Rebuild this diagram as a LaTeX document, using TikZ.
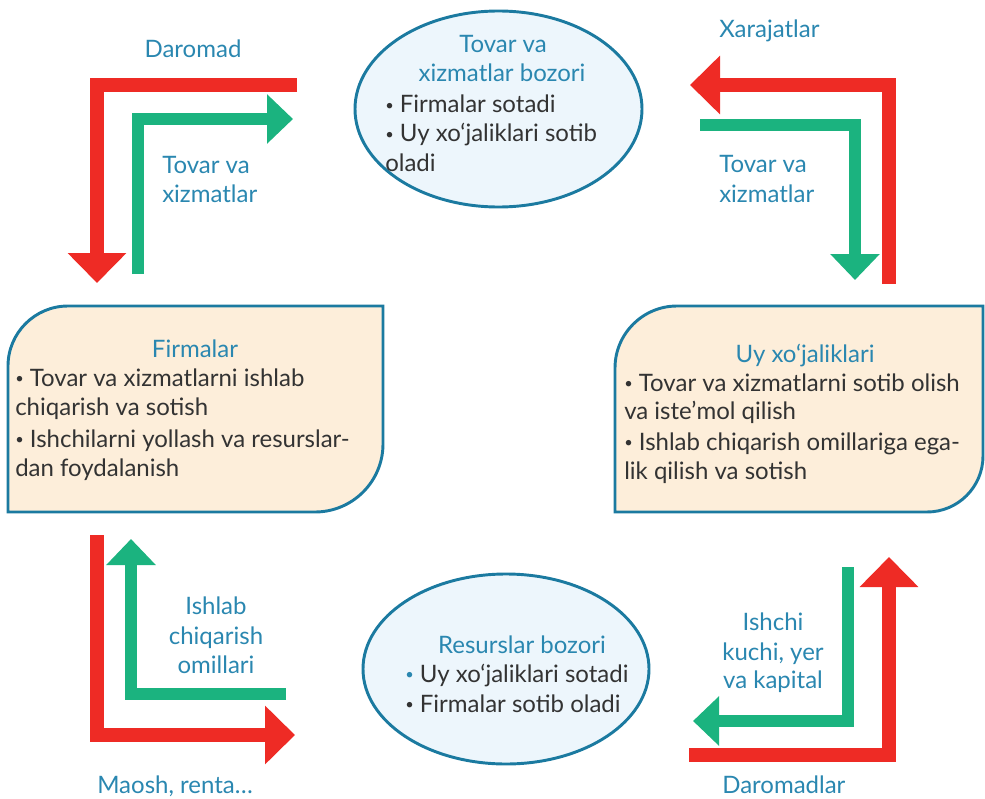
\documentclass[tikz,border=0pt]{standalone}
\usepackage{fontspec}
\setmainfont{Lato}
\usetikzlibrary{arrows.meta}
\definecolor{redc}{HTML}{EE2B25}
\definecolor{greenc}{HTML}{1BB37F}
\definecolor{bluet}{HTML}{2A87B0}
\definecolor{borderc}{HTML}{1B7AA0}
\definecolor{beige}{HTML}{FDEEDA}
\definecolor{lightblue}{HTML}{EDF6FC}
\definecolor{textc}{HTML}{333333}
\newcommand{\mybul}{\raisebox{2pt}{\fontsize{11}{11}\selectfont•}}
\begin{document}
\begin{tikzpicture}[x=0.75pt,y=-0.75pt,
  redflow/.style={draw=redc,line width=10.5pt,line join=miter,-{Triangle[width=42.75pt,length=22.5pt]}},
  greenflow/.style={draw=greenc,line width=8.5pt,line join=miter,-{Triangle[width=36pt,length=19.5pt]}},
  boxshape/.style={draw=borderc,line width=2.2pt,fill=beige},
  ellshape/.style={draw=borderc,line width=2.2pt,fill=lightblue},
  txt/.style={inner sep=0pt,font=\fontsize{18}{21.75}\selectfont},
  lbl/.style={txt,text=bluet},
  body/.style={txt,text=textc,anchor=base west}]
\path[use as bounding box] (0,0) rectangle (985,799);

% boxes
\draw[boxshape] (8,512) -- (8,366) .. controls (8,332.9) and (34.9,306) .. (68,306) -- (383,306) -- (383,444) .. controls (383,481.5) and (352.5,512) .. (315,512) -- cycle;
\draw[boxshape] (615,512) -- (615,368) .. controls (615,333.8) and (642.8,306) .. (677,306) -- (983,306) -- (983,456) .. controls (983,486.9) and (957.9,512) .. (927,512) -- cycle;
% ellipses
\draw[ellshape] (498.5,109) ellipse [x radius=143.5, y radius=98];
\draw[ellshape] (506,669) ellipse [x radius=143, y radius=95];

% flows
\coordinate (r1s) at (297,85);  \coordinate (r1e) at (97,283);
\coordinate (g1s) at (138,274); \coordinate (g1e) at (293,119);
\coordinate (r2s) at (889,284); \coordinate (r2e) at (690,85);
\coordinate (g2s) at (700,125); \coordinate (g2e) at (855,280);
\coordinate (r3s) at (97,535);  \coordinate (r3e) at (295,735);
\coordinate (g3s) at (286,694); \coordinate (g3e) at (131,539);
\coordinate (r4s) at (689,755); \coordinate (r4e) at (889,557);
\coordinate (g4s) at (848,567); \coordinate (g4e) at (693,721);
\draw[redflow] (r1s) -| (r1e);
\draw[greenflow] (g1s) |- (g1e);
\draw[redflow] (r2s) |- (r2e);
\draw[greenflow] (g2s) -| (g2e);
\draw[redflow] (r3s) |- (r3e);
\draw[greenflow] (g3s) -| (g3e);
\draw[redflow] (r4s) -| (r4e);
\draw[greenflow] (g4s) |- (g4e);

% flow labels
\node[lbl,anchor=base] (a1) at (193,58) {Daromad};
\node[lbl,anchor=base west] (a2) at (162,173) {Tovar va};
\node[lbl,anchor=base west] (a3) at (162,202) {xizmatlar};
\node[lbl,anchor=base west] (b1) at (719,38) {Xarajatlar};
\node[lbl,anchor=base west] (b2) at (719,172) {Tovar va};
\node[lbl,anchor=base west] (b3) at (719,202) {xizmatlar};
\node[lbl,anchor=base] (c1) at (216,614) {Ishlab};
\node[lbl,anchor=base] (c2) at (216,644) {chiqarish};
\node[lbl,anchor=base] (c3) at (216,673) {omillari};
\node[lbl,anchor=base west] (c4) at (97,793) {Maosh, renta…};
\node[lbl,anchor=base] (d1) at (773,630) {Ishchi};
\node[lbl,anchor=base] (d2) at (773,660) {kuchi, yer};
\node[lbl,anchor=base] (d3) at (773,688) {va kapital};
\node[lbl,anchor=base west] (d4) at (722,793) {Daromadlar};

% top ellipse text
\node[lbl,anchor=base] (e1) at (503,53) {Tovar va};
\node[lbl,anchor=base] (e2) at (502,82) {xizmatlar bozori};
\node[body] (e3) at (385,113) {\mybul{} Firmalar sotadi};
\node[body] (e4) at (385,142) {\mybul{} Uy xo‘jaliklari sotib};
\node[body] (e5) at (385,171) {oladi};

% left box text
\node[lbl,anchor=base] (f1) at (195,357) {Firmalar};
\node[body] (f2) at (15,386) {\mybul{} Tovar va xizmatlarni ishlab};
\node[body] (f3) at (15,415) {chiqarish va sotish};
\node[body] (f4) at (15,447) {\mybul{} Ishchilarni yollash va resurslar-};
\node[body] (f5) at (15,476) {dan foydalanish};

% right box text
\node[lbl,anchor=base] (h1) at (805,362) {Uy xo‘jaliklari};
\node[body] (h2) at (624,391) {\mybul{} Tovar va xizmatlarni sotib olish};
\node[body] (h3) at (624,419) {va iste’mol qilish};
\node[body] (h4) at (624,450) {\mybul{} Ishlab chiqarish omillariga ega-};
\node[body] (h5) at (624,479) {lik qilish va sotish};

% bottom ellipse text
\node[lbl,anchor=base] (k1) at (522,653) {Resurslar bozori};
\node[body] (k2) at (405,682) {{\color{bluet}\mybul{}} Uy xo‘jaliklari sotadi};
\node[body] (k3) at (405,712) {\mybul{} Firmalar sotib oladi};
\end{tikzpicture}
\end{document}
